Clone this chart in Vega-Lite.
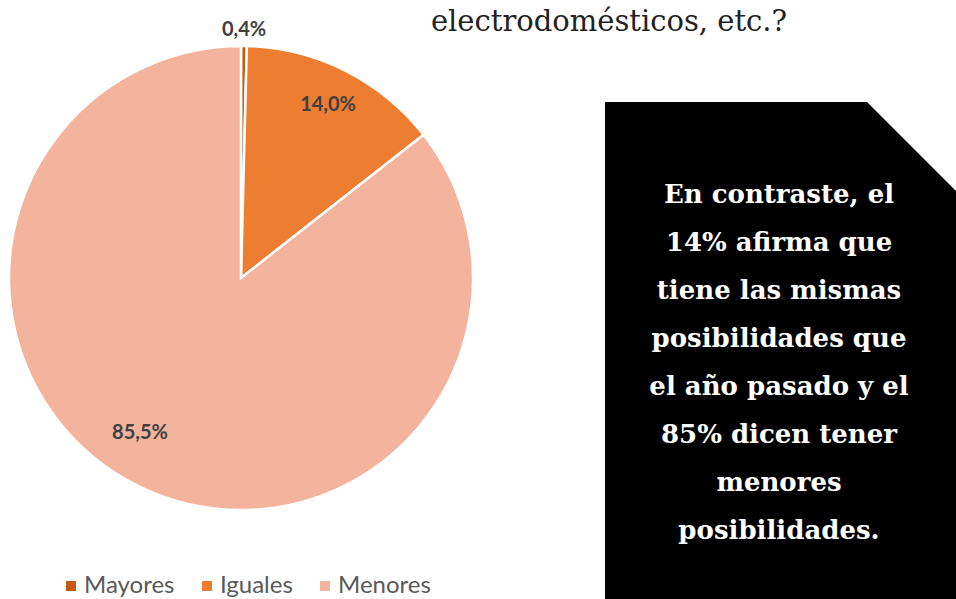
{
  "$schema": "https://vega.github.io/schema/vega-lite/v6.json",
  "width": 956,
  "height": 599,
  "autosize": {"type": "fit", "contains": "padding"},
  "padding": 0,
  "background": "white",
  "config": {"view": {"stroke": null}},
  "layer": [
    {
      "data": {"values": [{"bx": 605, "top": 102}, {"bx": 867, "top": 102}, {"bx": 956, "top": 191}]},
      "mark": {"type": "area", "color": "black", "interpolate": "linear"},
      "encoding": {
        "x": {"field": "bx", "type": "quantitative", "scale": {"domain": [0, 956], "nice": false, "zero": false}, "axis": null},
        "y": {"field": "top", "type": "quantitative", "scale": {"domain": [0, 599], "reverse": true, "nice": false, "zero": false}, "axis": null},
        "y2": {"datum": 599}
      }
    },
    {
      "data": {"values": [
        {"cat": "Mayores", "pct": 0.4, "label": "0,4%", "k": 1},
        {"cat": "Iguales", "pct": 14.0, "label": "14,0%", "k": 2},
        {"cat": "Menores", "pct": 85.5, "label": "85,5%", "k": 3}
      ]},
      "layer": [
        {
          "mark": {"type": "arc", "radius": 232, "stroke": "white", "strokeWidth": 2.5},
          "encoding": {
            "theta": {"field": "pct", "type": "quantitative", "stack": true},
            "order": {"field": "k", "type": "quantitative"},
            "x": {"value": 241},
            "y": {"value": 278},
            "color": {
              "field": "cat", "type": "nominal",
              "scale": {"domain": ["Mayores", "Iguales", "Menores"], "range": ["#C55A11", "#ED7D31", "#F3B39C"]},
              "legend": {
                "title": null, "orient": "none", "direction": "horizontal",
                "legendX": 59, "legendY": 574,
                "symbolType": "square", "symbolSize": 100, "symbolStrokeWidth": 0,
                "labelFont": "Lato", "labelFontSize": 24, "labelColor": "#595959",
                "labelOffset": 1, "columnPadding": 20, "labelLimit": 300
              }
            }
          }
        },
        {
          "mark": {
            "type": "text", "font": "Lato", "fontSize": 20, "fontWeight": "bold", "fill": "#404040",
            "radius": {"expr": "datum.cat === 'Mayores' ? 248 : datum.cat === 'Iguales' ? 194 : 185"},
            "dx": {"expr": "datum.cat === 'Menores' ? -20 : 0"},
            "dy": {"expr": "datum.cat === 'Menores' ? -11 : 0"}
          },
          "encoding": {
            "theta": {"field": "pct", "type": "quantitative", "stack": true},
            "order": {"field": "k", "type": "quantitative"},
            "detail": {"field": "cat", "type": "nominal"},
            "x": {"value": 241},
            "y": {"value": 278},
            "text": {"field": "label", "type": "nominal"}
          }
        }
      ]
    },
    {
      "data": {"values": [{"t": "box"}]},
      "mark": {"type": "text", "font": "DejaVu Serif", "fontWeight": "bold", "fontSize": 26, "fill": "white", "align": "center", "baseline": "alphabetic", "lineHeight": 48},
      "encoding": {
        "x": {"value": 779},
        "y": {"value": 203},
        "text": {"value": ["En contraste, el", "14% afirma que", "tiene las mismas", "posibilidades que", "el año pasado y el", "85% dicen tener", "menores", "posibilidades."]}
      }
    },
    {
      "data": {"values": [{"t": "top"}]},
      "mark": {"type": "text", "font": "DejaVu Serif", "fontSize": 29, "fill": "#222222", "align": "center", "baseline": "alphabetic"},
      "encoding": {
        "x": {"value": 609},
        "y": {"value": 31},
        "text": {"value": "electrodomésticos, etc.?"}
      }
    }
  ]
}
